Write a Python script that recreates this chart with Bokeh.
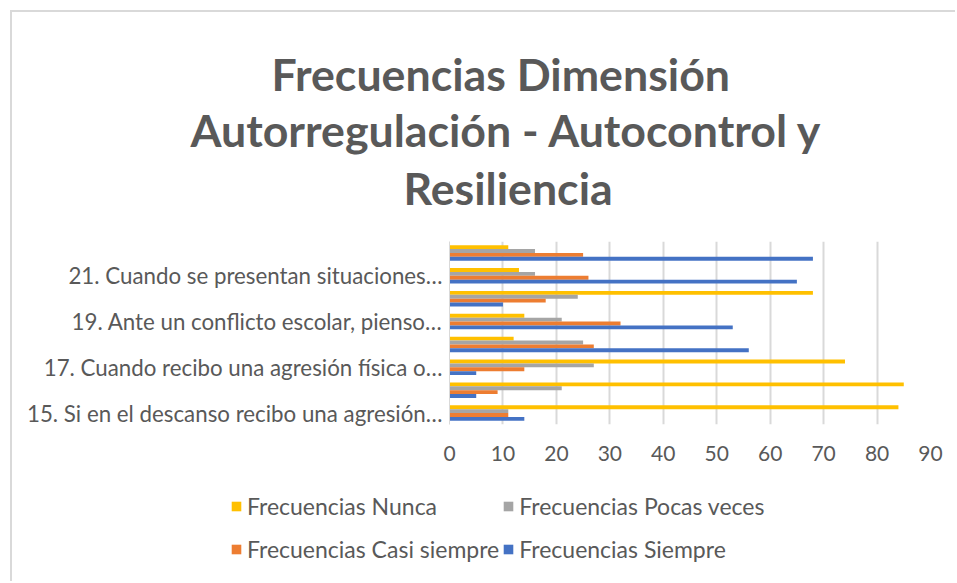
from bokeh.plotting import figure
from bokeh.models import Range1d, FixedTicker, Title, Legend, LegendItem, ColumnDataSource
from bokeh.transform import dodge
from bokeh.embed import file_html
from bokeh.resources import INLINE

# even-numbered items have no visible label in the reference (Excel skipped them)
categories = [
    "15. Si en el descanso recibo una agresión…",
    " ",
    "17. Cuando recibo una agresión física o…",
    "  ",
    "19. Ante un conflicto escolar, pienso…",
    "   ",
    "21. Cuando se presentan situaciones…",
    "    ",
]
nunca = [84, 85, 74, 12, 14, 68, 13, 11]
pocas = [11, 21, 27, 25, 21, 24, 16, 16]
casi = [11, 9, 14, 27, 32, 18, 26, 25]
siempre = [14, 5, 5, 56, 53, 10, 65, 68]
series_names = ["Frecuencias Nunca", "Frecuencias Pocas veces",
                "Frecuencias Casi siempre", "Frecuencias Siempre"]
x_ticks = [0, 10, 20, 30, 40, 50, 60, 70, 80, 90]
title_lines = ["Frecuencias Dimensión", "Autorregulación - Autocontrol y", "Resiliencia"]

colors = ["#FFC000", "#A5A5A5", "#ED7D31", "#4472C4"]
FONT = "Lato"
TXT = "#595959"
BORDER = "2px solid #d9d9d9"

source = ColumnDataSource(dict(cat=categories, nunca=nunca, pocas=pocas, casi=casi, siempre=siempre))

# ---------------- chart (title + bars + x axis) ----------------
p = figure(width=945, height=470, y_range=categories, x_range=Range1d(0, 90),
           output_backend="svg", toolbar_location=None,
           min_border_left=437, min_border_right=27, min_border_top=229, min_border_bottom=58)
p.styles = {"margin-left": "10px", "margin-top": "10px",
            "border-left": BORDER, "border-top": BORDER}
p.outline_line_color = None

offsets = [0.255, 0.085, -0.085, -0.255]
fields = ["nunca", "pocas", "casi", "siempre"]
for f, off, c in zip(fields, offsets, colors):
    p.hbar(y=dodge("cat", off, range=p.y_range), right=f, left=0, height=0.17,
           source=source, fill_color=c, line_color=None)

p.xaxis.ticker = FixedTicker(ticks=x_ticks)
p.xgrid.ticker = FixedTicker(ticks=x_ticks)
p.xgrid.grid_line_color = "#d9d9d9"
p.xgrid.grid_line_width = 2
p.ygrid.grid_line_color = None
p.xaxis.axis_line_color = None
p.xaxis.major_tick_line_color = None
p.xaxis.minor_tick_line_color = None
p.xaxis.major_label_text_font = FONT
p.xaxis.major_label_text_font_size = "21px"
p.xaxis.major_label_text_color = TXT
p.xaxis.major_label_standoff = 15

p.yaxis.axis_line_color = "#d9d9d9"
p.yaxis.axis_line_width = 1
p.yaxis.major_tick_line_color = None
p.yaxis.minor_tick_line_color = None
p.yaxis.major_label_text_font = FONT
p.yaxis.major_label_text_font_size = "22.3px"
p.yaxis.major_label_text_color = TXT
p.yaxis.major_label_standoff = 1

# spacer between the plot area and the title block
p.add_layout(Title(text=" ", text_font_size="8px", standoff=14), "above")
# title lines, stacked from the plot upwards
title_offsets = [-46, -259, -178]
title_standoffs = [4, 0, 0]
for t, off, so in zip(reversed(title_lines), title_offsets, title_standoffs):
    p.add_layout(Title(text=t, align="left", offset=off, standoff=so,
                       text_font=FONT, text_font_style="bold", text_font_size="44.7px",
                       text_color=TXT), "above")

# ---------------- legend strip ----------------
lg = figure(width=945, height=101, x_range=Range1d(0, 1), y_range=Range1d(0, 1),
            output_backend="svg", toolbar_location=None,
            x_axis_type=None, y_axis_type=None,
            min_border_left=0, min_border_right=0, min_border_top=0, min_border_bottom=0)
lg.styles = {"margin-left": "10px", "border-left": BORDER}
lg.outline_line_color = None
lg.xgrid.visible = False
lg.ygrid.visible = False
# hidden key renderers: they only provide the coloured swatches of the legend
swatches = [lg.hbar(y=[0.5], right=[0.5], left=[0], height=0.1, fill_color=c,
                    line_color=None, visible=False)
            for c in colors]

# legend fills column-major, so order items to read row-wise like the reference
order = [0, 2, 1, 3]
items = [LegendItem(label=series_names[i], renderers=[swatches[i]]) for i in order]
legend = Legend(items=items, nrows=2, location=(218, 12),
                label_text_font=FONT, label_text_font_size="23px", label_text_color=TXT,
                glyph_width=12, glyph_height=12, label_height=40, spacing=3,
                label_standoff=5, border_line_color=None, background_fill_alpha=0,
                inactive_fill_alpha=0, padding=0, margin=0)
lg.add_layout(legend, "center")

open("out.html", "w").write(file_html([p, lg], INLINE))
